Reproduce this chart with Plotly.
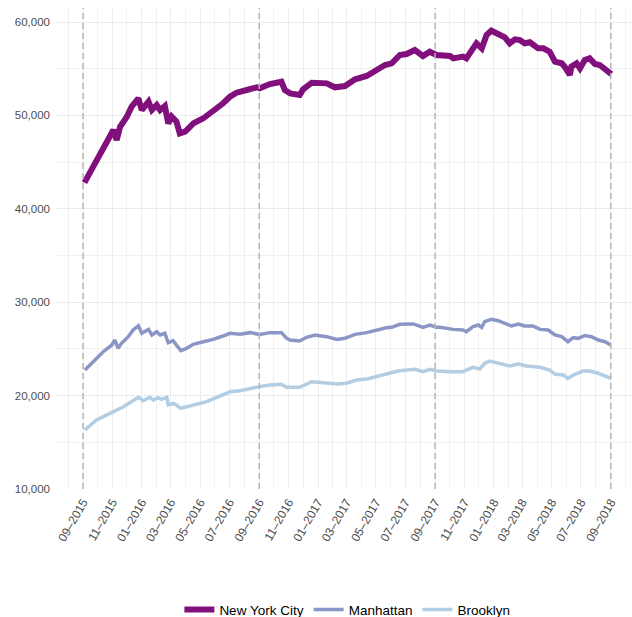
import plotly.graph_objects as go

# ---------------- data ----------------
nyc_dates = ["2015-09-04", "2015-09-22", "2015-10-13", "2015-10-24", "2015-11-03", "2015-11-10",
             "2015-11-17", "2015-12-01", "2015-12-11", "2015-12-25", "2016-01-01", "2016-01-15",
             "2016-01-22", "2016-02-01", "2016-02-08", "2016-02-18", "2016-02-25", "2016-03-03",
             "2016-03-13", "2016-03-20", "2016-03-31", "2016-04-07", "2016-04-17", "2016-05-08",
             "2016-05-28", "2016-06-18", "2016-07-02", "2016-07-16", "2016-08-06", "2016-08-27",
             "2016-09-02", "2016-09-23", "2016-10-17", "2016-10-24", "2016-11-04", "2016-11-24",
             "2016-12-01", "2016-12-19", "2017-01-19", "2017-02-05", "2017-02-26", "2017-03-19",
             "2017-04-12", "2017-05-03", "2017-05-20", "2017-06-03", "2017-06-20", "2017-07-04",
             "2017-07-21", "2017-08-07", "2017-08-21", "2017-09-04", "2017-09-11", "2017-10-02",
             "2017-10-09", "2017-10-29", "2017-11-05", "2017-11-16", "2017-11-26", "2017-12-07",
             "2017-12-17", "2017-12-27", "2018-01-10", "2018-01-24", "2018-02-03", "2018-02-14",
             "2018-02-24", "2018-03-06", "2018-03-17", "2018-04-03", "2018-04-14", "2018-04-27",
             "2018-05-08", "2018-05-22", "2018-05-28", "2018-06-08", "2018-06-11", "2018-06-22",
             "2018-06-29", "2018-07-09", "2018-07-19", "2018-07-30", "2018-08-09", "2018-08-23",
             "2018-09-02"]
nyc_values = [42800, 44510, 46650, 47370, 48440, 47370,
              48790, 49860, 50930, 51830, 50580, 51470,
              50580, 51110, 50580, 51010, 49150, 49860,
              49330, 48080, 48260, 48620, 49150, 49690,
              50400, 51300, 52000, 52430, 52720, 53010,
              52900, 53360, 53610, 52720, 52360, 52180,
              52790, 53500, 53430, 53010, 53150, 53860,
              54220, 54790, 55400, 55580, 56470, 56570,
              57000, 56360, 56820, 56470, 56470, 56360,
              56110, 56290, 56110, 57000, 57720, 57180,
              58610, 59070, 58790, 58360, 57720, 58150,
              58070, 57720, 57830, 57180, 57180, 56820,
              55750, 55580, 55220, 54330, 55220, 55580,
              55040, 55930, 56110, 55500, 55400, 54860,
              54430]

man_dates = ["2015-09-05", "2015-09-22", "2015-10-13", "2015-10-31", "2015-11-06", "2015-11-13",
             "2015-11-20", "2015-12-04", "2015-12-14", "2015-12-25", "2016-01-01", "2016-01-15",
             "2016-01-22", "2016-02-01", "2016-02-08", "2016-02-18", "2016-02-25", "2016-03-06",
             "2016-03-13", "2016-03-22", "2016-04-03", "2016-04-17", "2016-05-08", "2016-05-28",
             "2016-06-18", "2016-07-02", "2016-07-23", "2016-08-13", "2016-09-02", "2016-09-23",
             "2016-10-17", "2016-10-28", "2016-11-04", "2016-11-24", "2016-12-08", "2016-12-26",
             "2017-01-19", "2017-02-09", "2017-02-26", "2017-03-19", "2017-04-12", "2017-05-03",
             "2017-05-23", "2017-06-03", "2017-06-20", "2017-07-18", "2017-08-07", "2017-08-21",
             "2017-09-04", "2017-09-11", "2017-10-02", "2017-10-09", "2017-10-29", "2017-11-05",
             "2017-11-19", "2017-11-30", "2017-12-07", "2017-12-13", "2017-12-27", "2018-01-10",
             "2018-01-24", "2018-02-07", "2018-02-21", "2018-03-06", "2018-03-23", "2018-04-07",
             "2018-04-24", "2018-05-08", "2018-05-22", "2018-06-04", "2018-06-15", "2018-06-25",
             "2018-07-09", "2018-07-23", "2018-08-06", "2018-08-20", "2018-09-01"]
man_values = [22740, 23630, 24700, 25420, 25950, 25060,
              25600, 26310, 27020, 27480, 26670, 27090,
              26490, 26840, 26490, 26670, 25660, 25880,
              25420, 24810, 25060, 25490, 25770, 26020,
              26380, 26670, 26560, 26740, 26550, 26740,
              26740, 26130, 25950, 25840, 26240, 26490,
              26310, 26020, 26130, 26560, 26740, 27020,
              27270, 27310, 27630, 27670, 27310, 27560,
              27310, 27310, 27130, 27090, 27020, 26840,
              27380, 27560, 27310, 27910, 28170, 28020,
              27740, 27450, 27670, 27450, 27450, 27090,
              27020, 26490, 26310, 25770, 26200, 26130,
              26420, 26310, 25950, 25770, 25420]

bk_dates = ["2015-09-05", "2015-09-29", "2015-10-27", "2015-11-24", "2015-12-25", "2016-01-04",
            "2016-01-18", "2016-01-25", "2016-02-04", "2016-02-11", "2016-02-22", "2016-02-25",
            "2016-03-06", "2016-03-13", "2016-03-22", "2016-04-03", "2016-04-24", "2016-05-15",
            "2016-06-05", "2016-07-02", "2016-07-23", "2016-08-13", "2016-09-02", "2016-09-23",
            "2016-10-17", "2016-10-28", "2016-11-24", "2016-12-19", "2017-01-19", "2017-02-12",
            "2017-03-01", "2017-03-22", "2017-04-15", "2017-05-06", "2017-05-27", "2017-06-16",
            "2017-07-21", "2017-08-07", "2017-08-21", "2017-09-04", "2017-10-02", "2017-10-29",
            "2017-11-05", "2017-11-19", "2017-12-03", "2017-12-13", "2017-12-24", "2018-01-14",
            "2018-02-03", "2018-02-21", "2018-03-10", "2018-04-07", "2018-04-27", "2018-05-08",
            "2018-05-25", "2018-06-04", "2018-06-15", "2018-07-05", "2018-07-19", "2018-08-06",
            "2018-09-01"]
bk_values = [16320, 17390, 18100, 18810, 19820, 19450,
             19820, 19530, 19780, 19600, 19820, 18990,
             19170, 18990, 18640, 18810, 19060, 19350,
             19820, 20410, 20530, 20780, 20960, 21140,
             21210, 20890, 20890, 21490, 21380, 21240,
             21320, 21670, 21810, 22100, 22390, 22630,
             22810, 22560, 22810, 22630, 22560, 22560,
             22740, 23030, 22850, 23460, 23700, 23460,
             23170, 23380, 23170, 23030, 22740, 22310,
             22200, 21850, 22200, 22630, 22630, 22390,
             21850]

series_names = ["New York City", "Manhattan", "Brooklyn"]
vline_dates = ["2015-09-01", "2016-09-01", "2017-09-01", "2018-09-01"]
y_ticks = [10000, 20000, 30000, 40000, 50000, 60000]

# ---------------- figure ----------------
FONT = "Liberation Sans, Arial, Helvetica, sans-serif"
colors = ["#810f7c", "#8c96c6", "#b3cde3"]
widths = [6, 3.5, 3.5]

fig = go.Figure()
for name, xs, ys, c, w in zip(series_names,
                              [nyc_dates, man_dates, bk_dates],
                              [nyc_values, man_values, bk_values],
                              colors, widths):
    fig.add_trace(go.Scatter(x=xs, y=ys, mode="lines", name=name,
                             line=dict(color=c, width=w)))

for d in vline_dates:
    fig.add_shape(type="line", xref="x", yref="paper", x0=d, x1=d, y0=0, y1=1,
                  line=dict(color="#b5b5b5", width=1.5, dash="6px,4px"), layer="above")

fig.update_layout(
    width=632, height=617,
    margin=dict(l=57, r=0, t=8, b=128, autoexpand=False),
    plot_bgcolor="white", paper_bgcolor="white",
    font=dict(family=FONT, size=12, color="#4d4d4d"),
    showlegend=True,
    legend=dict(orientation="h", x=0.505, xanchor="center", y=-0.251, yanchor="middle",
                font=dict(size=13.5, color="black", family=FONT), itemwidth=30,
                traceorder="normal"),
    xaxis=dict(type="date", range=["2015-07-09", "2018-10-15"], automargin=False,
               tick0="2015-09-01", dtick="M2", tickformat="%m–%Y", tickangle=-60,
               ticklabelstandoff=3,
               showgrid=True, gridcolor="#ebebeb", gridwidth=1,
               minor=dict(dtick="M1", showgrid=True, gridcolor="#f0f0f0", gridwidth=1),
               zeroline=False, showline=False, ticks="",
               tickfont=dict(size=12, color="#4d4d4d")),
    yaxis=dict(range=[10000, 61500], tickvals=y_ticks, tickformat=",", automargin=False,
               ticklabelstandoff=6,
               showgrid=True, gridcolor="#ebebeb", gridwidth=1,
               minor=dict(tick0=10000, dtick=5000, showgrid=True, gridcolor="#f0f0f0", gridwidth=1),
               zeroline=False, showline=False, ticks="",
               tickfont=dict(size=11.5, color="#4d4d4d")),
)

fig.write_html("out.html", config={"displayModeBar": False},
               post_script="document.body.style.margin='0px';document.body.style.padding='0px';")
